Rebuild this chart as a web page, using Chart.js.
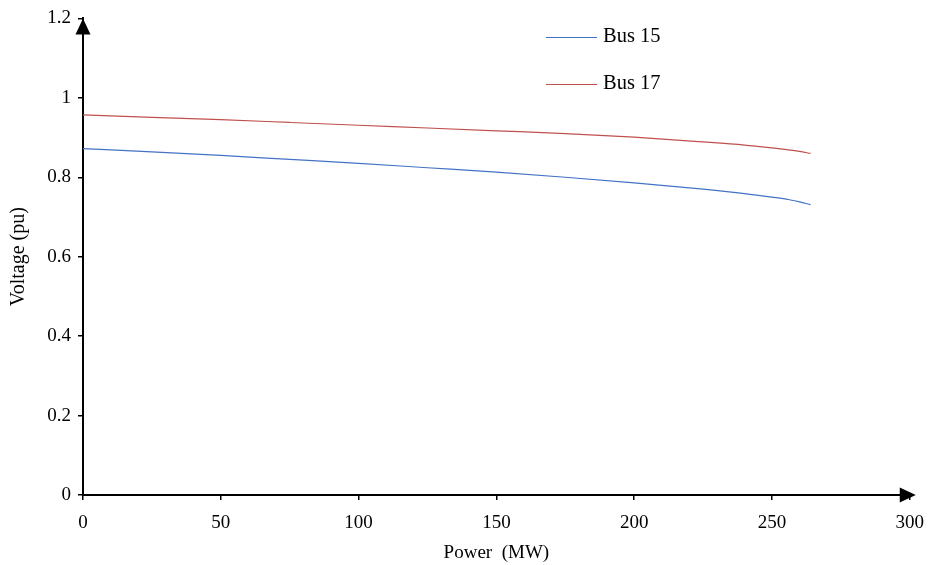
<!DOCTYPE html>
<html>
<head>
<meta charset="utf-8">
<script src="https://cdn.jsdelivr.net/npm/chart.js@4"></script>
<style>
html,body{margin:0;padding:0;background:#fff;}
#wrap{width:936px;height:565px;position:relative;}
</style>
</head>
<body>
<div id="wrap"><canvas id="c" width="936" height="565"></canvas></div>
<script>
const powerMW = [0, 25, 50, 75, 100, 125, 150, 175, 200, 225, 240, 250, 256, 260, 264];
const bus15 = [0.872, 0.864, 0.855, 0.845, 0.835, 0.824, 0.813, 0.800, 0.786, 0.770, 0.759, 0.750, 0.744, 0.738, 0.731];
const bus17 = [0.957, 0.951, 0.945, 0.938, 0.931, 0.924, 0.917, 0.910, 0.901, 0.889, 0.881, 0.874, 0.869, 0.865, 0.860];
const seriesNames = ["Bus 15", "Bus 17"];
const xTitle = "Power  (MW)";
const yTitle = "Voltage (pu)";

const FONT = "'Liberation Serif', 'Times New Roman', serif";

const toPts = (ys) => powerMW.map((x, i) => ({x: x, y: ys[i]}));

const arrowPlugin = {
  id: 'arrows',
  afterDraw(chart) {
    const ctx = chart.ctx;
    const a = chart.chartArea;
    ctx.save();
    ctx.fillStyle = '#000';
    ctx.beginPath();
    ctx.moveTo(a.left, a.top);
    ctx.lineTo(a.left - 7.5, a.top + 16);
    ctx.lineTo(a.left + 7.5, a.top + 16);
    ctx.closePath();
    ctx.fill();
    ctx.beginPath();
    ctx.moveTo(a.right + 6, a.bottom);
    ctx.lineTo(a.right - 10, a.bottom - 7.5);
    ctx.lineTo(a.right - 10, a.bottom + 7.5);
    ctx.closePath();
    ctx.fill();
    ctx.restore();
  }
};

const legendPlugin = {
  id: 'innerLegend',
  afterDraw(chart) {
    const ctx = chart.ctx;
    ctx.save();
    ctx.font = "20.5px " + FONT;
    ctx.textBaseline = 'middle';
    ctx.textAlign = 'left';
    const ys = [37, 84];
    chart.data.datasets.forEach((ds, i) => {
      ctx.strokeStyle = ds.borderColor;
      ctx.lineWidth = 1;
      ctx.beginPath();
      ctx.moveTo(546, ys[i] + 0.5);
      ctx.lineTo(597, ys[i] + 0.5);
      ctx.stroke();
      ctx.fillStyle = '#000';
      ctx.fillText(ds.label, 603, ys[i]);
    });
    ctx.restore();
  }
};

new Chart(document.getElementById('c'), {
  type: 'line',
  data: {
    datasets: [
      {label: seriesNames[0], data: toPts(bus15), borderColor: '#4472C4', borderWidth: 1.2, pointRadius: 0, cubicInterpolationMode: 'monotone', fill: false},
      {label: seriesNames[1], data: toPts(bus17), borderColor: '#C0504D', borderWidth: 1.2, pointRadius: 0, cubicInterpolationMode: 'monotone', fill: false}
    ]
  },
  options: {
    responsive: false,
    animation: false,
    devicePixelRatio: 1,
    layout: {padding: {left: 0, top: 17, right: 24, bottom: 0}},
    plugins: {legend: {display: false}, tooltip: {enabled: false}},
    scales: {
      x: {
        type: 'linear', min: 0, max: 300,
        afterFit(s) { s.height = 70; },
        ticks: {stepSize: 50, color: '#000', font: {family: FONT, size: 19}, padding: 12, maxRotation: 0},
        grid: {drawOnChartArea: false, drawTicks: true, tickLength: 5, color: '#000', lineWidth: 1.5},
        border: {display: true, color: '#000', width: 2},
        title: {display: true, text: xTitle, color: '#000', font: {family: FONT, size: 19}, padding: {top: 0, bottom: 1}}
      },
      y: {
        type: 'linear', min: 0, max: 1.2,
        afterFit(s) { s.width = 83; },
        ticks: {stepSize: 0.2, color: '#000', font: {family: FONT, size: 19}, padding: 7,
          callback: (v) => String(Number(v.toFixed(1)))},
        grid: {drawOnChartArea: false, drawTicks: true, tickLength: 5, color: '#000', lineWidth: 1.5},
        border: {display: true, color: '#000', width: 2},
        title: {display: true, text: yTitle, color: '#000', font: {family: FONT, size: 20}, padding: {top: 7, bottom: 0}}
      }
    }
  },
  plugins: [arrowPlugin, legendPlugin]
});
</script>
</body>
</html>
